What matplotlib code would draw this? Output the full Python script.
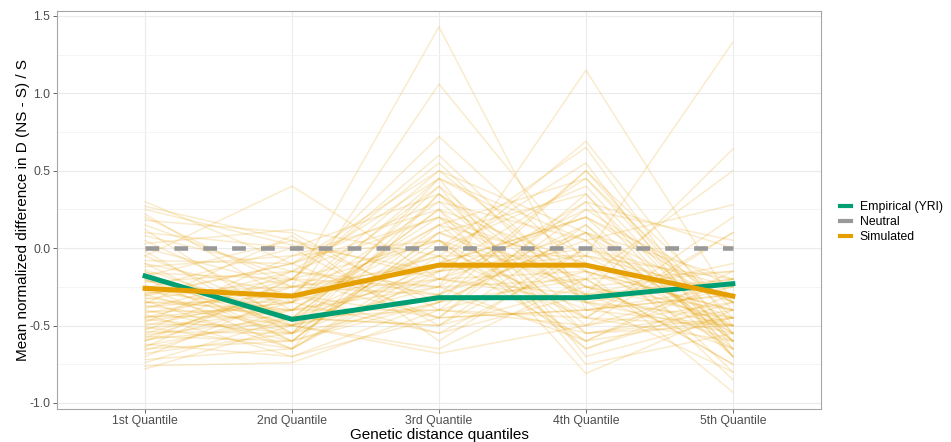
import numpy as np
import matplotlib
matplotlib.use("Agg")
import matplotlib.pyplot as plt
from matplotlib.lines import Line2D

plt.rcParams["font.family"] = ["Liberation Sans", "DejaVu Sans"]

quantiles = ["1st Quantile", "2nd Quantile", "3rd Quantile", "4th Quantile", "5th Quantile"]

# mean normalized difference per simulation replicate (Q1..Q5)
sim_q1 = [0.30, 0.27, 0.22, 0.18, 0.15, 0.12, 0.10, 0.08, 0.05, 0.03,
          0.00, -0.02, -0.05, -0.08, -0.10, -0.12, -0.14, -0.16, -0.18, -0.20,
          -0.21, -0.22, -0.24, -0.25, -0.26, -0.28, -0.29, -0.30, -0.31, -0.32,
          -0.33, -0.34, -0.35, -0.36, -0.37, -0.38, -0.39, -0.40, -0.41, -0.42,
          -0.43, -0.44, -0.45, -0.46, -0.47, -0.48, -0.49, -0.50, -0.51, -0.52,
          -0.53, -0.54, -0.55, -0.56, -0.57, -0.58, -0.59, -0.60, -0.62, -0.63,
          -0.64, -0.65, -0.66, -0.68, -0.70, -0.72, -0.74, -0.76, -0.78, -0.35,
          -0.15, -0.05, 0.20, -0.30, -0.20, -0.45, -0.10, -0.60, 0.25, -0.25]
sim_q2 = [-0.10, 0.05, -0.35, 0.10, -0.20, -0.50, 0.00, -0.15, -0.40, 0.12,
          -0.25, -0.55, 0.40, -0.10, -0.30, -0.05, -0.45, -0.20, 0.05, -0.60,
          -0.35, -0.15, -0.50, -0.30, 0.00, -0.40, -0.25, -0.55, -0.10, -0.45,
          -0.20, -0.65, -0.35, 0.08, -0.50, -0.30, -0.15, -0.60, -0.40, -0.25,
          -0.70, -0.45, -0.20, -0.55, -0.35, -0.05, -0.50, -0.30, -0.65, -0.40,
          -0.15, -0.55, -0.30, -0.45, -0.60, -0.25, -0.50, -0.35, -0.70, -0.45,
          -0.20, -0.60, -0.40, -0.55, -0.30, -0.65, -0.45, -0.74, -0.50, -0.40,
          -0.60, -0.45, -0.25, -0.10, -0.50, -0.35, -0.55, -0.20, 0.02, -0.65]
sim_q3 = [0.20, -0.20, 0.45, -0.40, 0.05, -0.10, 0.35, -0.30, 0.15, -0.05,
          1.43, 0.00, -0.20, 0.50, -0.45, 0.25, -0.15, 0.60, -0.35, 0.10,
          1.06, -0.25, 0.40, -0.05, -0.50, 0.20, -0.30, 0.05, 0.30, -0.40,
          0.72, -0.15, 0.15, -0.60, 0.00, -0.20, 0.45, -0.35, 0.10, -0.10,
          -0.45, 0.25, -0.25, 0.35, -0.55, 0.05, -0.30, 0.50, -0.05, -0.40,
          0.20, -0.20, 0.40, -0.50, 0.10, -0.15, -0.65, 0.30, -0.35, 0.00,
          -0.45, 0.15, -0.25, 0.45, -0.55, -0.10, 0.25, -0.40, -0.68, -0.20,
          -0.30, -0.50, 0.05, -0.45, -0.25, -0.05, -0.35, 0.55, -0.15, 0.35]
sim_q4 = [-0.30, 0.10, -0.05, 0.30, -0.45, 0.20, -0.25, 0.05, 0.45, -0.60,
          -0.40, 0.65, -0.15, 0.10, 0.25, -0.50, 0.00, -0.30, -0.20, 0.35,
          -0.10, 1.15, -0.35, -0.05, 0.15, -0.65, 0.50, -0.25, 0.05, -0.45,
          -0.15, 0.20, -0.55, 0.00, 0.40, -0.30, -0.70, 0.10, -0.20, 0.69,
          -0.40, -0.10, 0.30, -0.35, -0.05, -0.60, 0.15, -0.25, 0.55, -0.50,
          -0.15, 0.25, -0.75, 0.00, -0.30, 0.45, -0.20, -0.45, 0.10, -0.40,
          0.35, -0.10, -0.60, 0.05, -0.30, 0.20, -0.81, -0.15, -0.50, -0.35,
          -0.55, -0.25, -0.65, -0.40, -0.20, -0.45, 0.50, -0.35, -0.05, -0.55]
sim_q5 = [-0.50, -0.60, -0.20, -0.70, 0.10, -0.35, -0.45, 0.28, -0.55, -0.15,
          -0.30, -0.65, -0.40, -0.80, 0.05, -0.25, -0.50, -0.10, 0.50, -0.60,
          -0.45, -0.35, -0.20, 1.33, -0.70, -0.30, -0.55, -0.15, -0.85, 0.20,
          -0.40, -0.25, -0.50, -0.35, -0.60, 0.64, -0.45, -0.20, -0.75, -0.50,
          -0.30, -0.65, 0.00, -0.45, -0.55, -0.20, -0.60, -0.40, -0.70, 0.10,
          -0.50, -0.35, -0.55, -0.25, -0.65, -0.45, -0.15, -0.60, -0.35, -0.50,
          -0.70, -0.30, -0.45, -0.55, -0.20, -0.65, -0.40, -0.93, -0.35, -0.80,
          -0.40, -0.60, -0.35, -0.25, -0.75, -0.50, -0.40, -0.55, -0.30, -0.45]

sim_mean = [-0.26, -0.31, -0.11, -0.11, -0.31]
empirical = [-0.18, -0.46, -0.32, -0.32, -0.23]
neutral = [0.0, 0.0, 0.0, 0.0, 0.0]

GREEN = "#009E73"
GREY = "#999999"
ORANGE = "#E69F00"

fig = plt.figure(figsize=(9.51, 4.42), dpi=100)
ax = fig.add_axes([0.0599, 0.0747, 0.8034, 0.9005])

x = np.arange(len(quantiles))
sims = np.column_stack([sim_q1, sim_q2, sim_q3, sim_q4, sim_q5])
for row in sims:
    ax.plot(x, row, color=ORANGE, alpha=0.2, lw=1.1, zorder=2)

ax.plot(x, neutral, color=GREY, lw=3.3, dashes=(3, 3.3), zorder=3)
ax.plot(x, empirical, color=GREEN, lw=3.6, zorder=4)
ax.plot(x, sim_mean, color=ORANGE, lw=3.6, zorder=4)

ax.set_xlim(-0.6, 4.6)
ax.set_ylim(-1.039, 1.532)
ax.set_xticks(x)
ax.set_xticklabels(quantiles)
ax.set_yticks([-1.0, -0.5, 0.0, 0.5, 1.0, 1.5])
ax.set_yticklabels(["-1.0", "-0.5", "0.0", "0.5", "1.0", "1.5"])
ax.set_yticks([-0.75, -0.25, 0.25, 0.75, 1.25], minor=True)

ax.grid(True, which="major", color="#EBEBEB", lw=0.8, zorder=0)
ax.grid(True, which="minor", axis="y", color="#F3F3F3", lw=0.6, zorder=0)
ax.set_axisbelow(True)
ax.tick_params(axis="both", which="major", colors="#4D4D4D", labelsize=8.8,
               length=2.8, width=0.6, pad=2)
ax.tick_params(axis="x", which="major", pad=1.5)
ax.tick_params(axis="both", which="minor", length=0)
for sp in ax.spines.values():
    sp.set_color("#A6A6A6")
    sp.set_linewidth(0.8)

ax.set_xlabel("Genetic distance quantiles", fontsize=11)
ax.set_ylabel("Mean normalized difference in D (NS - S) / S", fontsize=11)
ax.xaxis.set_label_coords(0.5, -0.066)
ax.xaxis.label.set_va("center")
ax.yaxis.set_label_coords(-0.045, 0.5)
ax.yaxis.label.set_va("center")

handles = [Line2D([], [], color=GREEN, lw=3),
           Line2D([], [], color=GREY, lw=3),
           Line2D([], [], color=ORANGE, lw=3)]
fig.legend(handles, ["Empirical (YRI)", "Neutral", "Simulated"],
           loc="center left", bbox_to_anchor=(0.872, 0.498), frameon=False,
           fontsize=8.8, handlelength=0.9, handletextpad=0.7, labelspacing=0.25)

fig.savefig("out.png", dpi=100)
